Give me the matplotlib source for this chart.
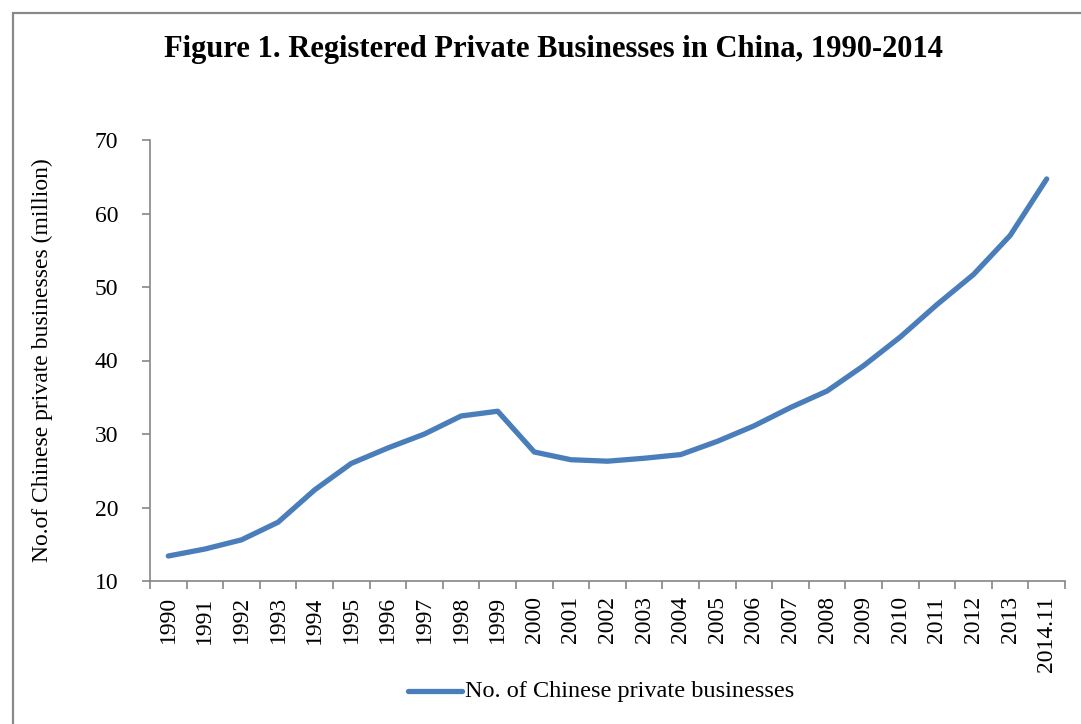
import matplotlib
matplotlib.use("Agg")
import matplotlib.pyplot as plt
from matplotlib.patches import Rectangle
from matplotlib.lines import Line2D

categories = ["1990", "1991", "1992", "1993", "1994", "1995", "1996", "1997",
              "1998", "1999", "2000", "2001", "2002", "2003", "2004", "2005",
              "2006", "2007", "2008", "2009", "2010", "2011", "2012", "2013",
              "2014.11"]
values = [13.4, 14.35, 15.6, 18.0, 22.4, 26.0, 28.1, 30.0, 32.45, 33.1,
          27.55, 26.5, 26.3, 26.7, 27.2, 29.0, 31.1, 33.6, 35.85, 39.3,
          43.2, 47.6, 51.7, 57.0, 64.7]
yticks = [10, 20, 30, 40, 50, 60, 70]
series_name = "No. of Chinese private businesses"

plt.rcParams['font.family'] = ['Liberation Serif', 'DejaVu Serif']

W, H = 1081, 724
fig = plt.figure(figsize=(W / 100, H / 100), dpi=100)
fig.patch.set_facecolor("white")

# outer border
fig.patches.append(Rectangle((13 / W, -0.05), 1.2, 1 - 13 / H + 0.05,
                             transform=fig.transFigure, fill=False,
                             edgecolor="#898989", linewidth=1.6))

ax = fig.add_axes([150 / W, 1 - 581 / H, (1065 - 150) / W, (581 - 140) / H])
x = list(range(len(categories)))
line_color = "#4A7EBB"
ax.plot(x, values, color=line_color, linewidth=3.8, solid_capstyle="round",
        solid_joinstyle="round")

fs = 17
ax.set_xlim(-0.5, len(categories) - 0.5)
ax.set_ylim(10, 70)
ax.set_yticks(yticks)
ax.set_yticklabels([str(v) for v in yticks], fontsize=fs)

# category labels at centers, ticks at boundaries
ax.set_xticks(x)
ax.set_xticklabels(categories, rotation=90, fontsize=fs)
ax.tick_params(axis="x", which="major", length=0, pad=11)
ax.set_xticks([i - 0.5 for i in range(len(categories) + 1)], minor=True)
ax.tick_params(axis="x", which="minor", length=6, color="#868686", width=1.2)
ax.tick_params(axis="y", length=6, color="#868686", width=1.2, pad=17)

for s in ["top", "right"]:
    ax.spines[s].set_visible(False)
for s in ["left", "bottom"]:
    ax.spines[s].set_color("#868686")
    ax.spines[s].set_linewidth(1.2)

ax.set_ylabel("No.of Chinese private businesses (million)", fontsize=fs)
ax.yaxis.set_label_coords(-(150 - 53) / (1065 - 150), 0.5)

fig.text(553 / W, 1 - 50 / H, "Figure 1. Registered Private Businesses in China, 1990-2014",
         ha="center", va="center", fontsize=22, fontweight="bold")

# legend
fig.add_artist(Line2D([408 / W, 462 / W], [1 - 691 / H, 1 - 691 / H],
                      transform=fig.transFigure, color=line_color,
                      linewidth=3.8, solid_capstyle="round"))
fig.text(465 / W, 1 - 691 / H, series_name, ha="left", va="center",
         fontsize=fs + 0.5)

fig.savefig("out.png", dpi=100, facecolor="white")
